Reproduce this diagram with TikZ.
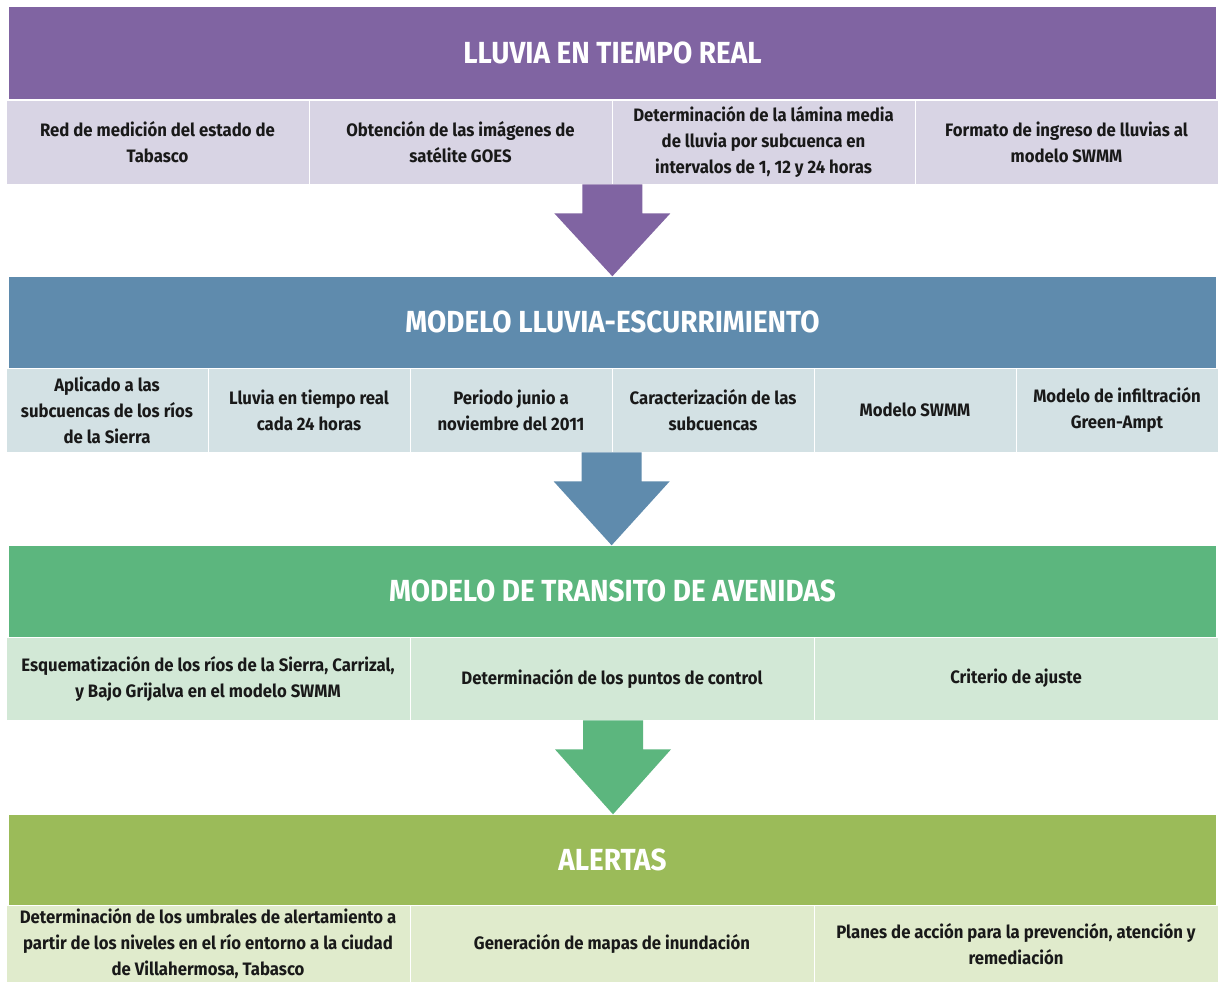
\documentclass[tikz,border=0pt]{standalone}
\usepackage{fontspec}
\setmainfont{Fira Sans}[UprightFont=* Bold, BoldFont=* Bold, FakeStretch=0.93]
\newfontfamily\titlefont{Fira Sans}[UprightFont=* Bold, FakeStretch=0.915]
\usetikzlibrary{calc}
\definecolor{purp}{HTML}{8064A2}
\definecolor{purpl}{HTML}{D8D4E4}
\definecolor{blu}{HTML}{5F8BAD}
\definecolor{blul}{HTML}{D3E1E4}
\definecolor{grn}{HTML}{5CB67E}
\definecolor{grnl}{HTML}{D2E8D6}
\definecolor{lim}{HTML}{9BBB59}
\definecolor{liml}{HTML}{E0EBCC}
\tikzset{
  x=1pt, y=-1pt,
  hdr/.style={inner sep=0pt, minimum width=1207pt, text=white, font=\titlefont\fontsize{30.5}{34}\selectfont},
  sub/.style={inner sep=0pt, draw=white, line width=0.7pt, align=center, text=black!90, font=\fontsize{18}{26}\selectfont},
}
\newcommand\bigarrow[3]{\fill[#1] ($(#2)+(-30,0)$) -- ($(#2)+(30,0)$) -- ($(#2)+(30,29)$) -- ($(#2)+(58,29)$) -- (#3) -- ($(#2)+(-58,29)$) -- ($(#2)+(-30,29)$) -- cycle;}
\begin{document}
\begin{tikzpicture}
\useasboundingbox[fill=white] (0,0) rectangle (1218,982);
% ---- band 1
\node[hdr, fill=purp, minimum height=92pt] (h1) at (612.5,53) {LLUVIA EN TIEMPO REAL};
\foreach \i/\t in {0/{Red de medición del estado de\\Tabasco},
                   1/{Obtención de las imágenes de\\satélite GOES},
                   2/{Determinación de la lámina media\\de lluvia por subcuenca en\\intervalos de 1, 12 y 24 horas},
                   3/{Formato de ingreso de lluvias al\\modelo SWMM}}
  \node[sub, fill=purpl, minimum width=303pt, minimum height=84pt] (s1-\i) at ({6+303*\i+151.5},142) {\t};
% ---- band 2
\node[hdr, fill=blu, minimum height=91pt] (h2) at (612.5,322) {MODELO LLUVIA-ESCURRIMIENTO};
\foreach \i/\t in {0/{Aplicado a las\\subcuencas de los ríos\\de la Sierra},
                   1/{Lluvia en tiempo real\\cada 24 horas},
                   2/{Periodo junio a\\noviembre del 2011},
                   3/{Caracterización de las\\subcuencas},
                   4/{Modelo SWMM},
                   5/{Modelo de infiltración\\Green-Ampt}}
  \node[sub, fill=blul, minimum width=202pt, minimum height=84pt] (s2-\i) at ({6+202*\i+101},410) {\t};
% ---- band 3
\node[hdr, fill=grn, minimum height=91pt] (h3) at (612.5,591) {MODELO DE TRANSITO DE AVENIDAS};
\foreach \i/\t in {0/{Esquematización de los ríos de la Sierra, Carrizal,\\y Bajo Grijalva en el modelo SWMM},
                   1/{Determinación de los puntos de control},
                   2/{Criterio de ajuste}}
  \node[sub, fill=grnl, minimum width=404pt, minimum height=83pt] (s3-\i) at ({6+404*\i+202},678.5) {\t};
% ---- band 4
\node[hdr, fill=lim, minimum height=90pt] (h4) at (612.5,859.5) {ALERTAS};
\foreach \i/\t in {0/{Determinación de los umbrales de alertamiento a\\partir de los niveles en el río entorno a la ciudad\\de Villahermosa, Tabasco},
                   1/{Generación de mapas de inundación},
                   2/{Planes de acción para la prevención, atención y\\remediación}}
  \node[sub, fill=liml, minimum width=404pt, minimum height=78pt] (s4-\i) at ({6+404*\i+202},944) {\t};
% ---- arrows
\coordinate (a1) at (s1-1.south east);
\coordinate (a1t) at (a1 |- h2.north);
\bigarrow{purp}{a1}{a1t}
\coordinate (a2) at (s2-3.south west);
\coordinate (a2t) at (a2 |- h3.north);
\bigarrow{blu}{a2}{a2t}
\coordinate (a3) at ($(s3-1.south)+(1,0)$);
\coordinate (a3t) at (a3 |- h4.north);
\bigarrow{grn}{a3}{a3t}
\end{tikzpicture}
\end{document}
